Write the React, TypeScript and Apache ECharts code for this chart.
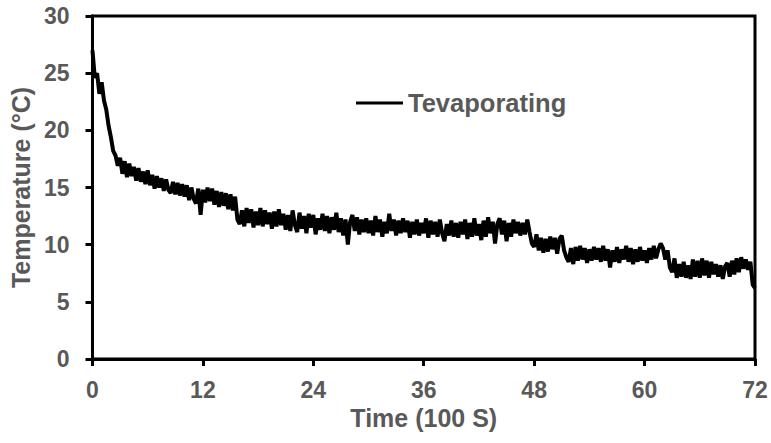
import React, { useEffect, useRef } from "react";
import * as echarts from "echarts";

// Sampling step of the recorded time series (in units of 100 s)
const sampleStep = 0.25;

// Evaporating temperature (°C), one row per unit of time (4 samples each)
const tevaporating: number[] = [
  27.0, 24.6, 25.0, 23.2,
  24.2, 22.6, 21.8, 20.4,
  19.4, 18.2, 17.8, 16.9,
  17.6, 16.2, 17.3, 15.9,
  17.1, 16.0, 16.8, 15.6,
  16.7, 15.5, 16.4, 15.3,
  16.5, 15.2, 16.1, 14.9,
  16.0, 15.0, 15.8, 14.7,
  15.7, 14.8, 14.5, 15.5,
  14.4, 15.4, 14.3, 15.3,
  14.2, 15.2, 13.9, 15.0,
  14.0, 13.6, 14.9, 12.6,
  14.8, 13.7, 15.0, 13.8,
  14.9, 13.5, 14.7, 13.3,
  14.6, 13.4, 14.5, 13.1,
  14.4, 13.0, 14.2, 12.2,
  11.8, 13.0, 11.6, 13.2,
  11.9, 13.1, 11.5, 12.9,
  11.7, 13.2, 11.6, 13.0,
  11.8, 12.8, 11.4, 12.9,
  11.6, 13.1, 11.7, 12.7,
  11.3, 12.6, 11.2, 13.0,
  11.7, 11.1, 12.8, 11.4,
  12.5, 11.0, 12.7, 11.5,
  12.6, 10.9, 12.3, 11.3,
  12.7, 11.2, 12.5, 11.0,
  12.4, 11.3, 12.8, 11.1,
  12.3, 10.8, 12.2, 10.0,
  12.0, 12.6, 11.2, 12.4,
  10.9, 12.2, 11.1, 12.3,
  11.0, 12.1, 10.8, 12.5,
  11.1, 12.2, 10.7, 12.0,
  11.0, 12.7, 11.2, 12.2,
  10.8, 12.1, 11.0, 12.3,
  11.1, 12.1, 10.6, 12.0,
  10.9, 12.2, 10.8, 11.9,
  11.0, 12.3, 10.6, 12.1,
  10.9, 12.0, 10.7, 12.2,
  11.0, 10.3, 11.8, 10.8,
  12.1, 10.7, 11.9, 10.6,
  12.0, 10.9, 12.2, 10.5,
  11.9, 10.7, 12.3, 10.8,
  11.8, 10.4, 12.1, 10.7,
  12.4, 11.0, 12.0, 10.1,
  11.8, 12.3, 10.9, 12.1,
  10.3, 11.9, 10.7, 12.2,
  11.0, 12.0, 10.8, 11.9,
  10.9, 12.2, 11.1, 10.1,
  9.8, 10.9, 9.5, 10.6,
  9.3, 10.5, 9.4, 10.7,
  9.6, 10.6, 9.2, 10.5,
  10.8, 9.5, 8.9, 8.5,
  9.7, 8.3, 9.8, 8.6,
  9.9, 8.7, 9.7, 8.4,
  9.6, 8.6, 9.8, 8.7,
  9.7, 8.5, 9.9, 8.6,
  9.6, 8.0, 9.5, 8.5,
  9.8, 8.4, 9.6, 8.7,
  9.9, 8.5, 9.7, 8.3,
  9.6, 8.5, 9.8, 8.6,
  9.5, 8.4, 9.7, 8.7,
  9.9, 8.8, 9.6, 10.1,
  9.7, 8.7, 9.5, 8.0,
  7.6, 8.8, 7.1, 8.3,
  7.2, 8.5, 7.1, 8.2,
  7.0, 8.7, 7.2, 8.6,
  7.1, 8.8, 7.3, 8.6,
  7.1, 8.5, 7.4, 8.3,
  7.2, 8.2, 7.0, 8.1,
  8.4, 7.2, 8.6, 7.4,
  8.8, 7.6, 8.9, 7.9,
  8.7, 7.8, 8.5, 6.5,
  6.2,
];

const seriesName = "Tevaporating";
const xAxisTitle = "Time (100 S)";
const yAxisTitle = "Temperature (°C)";
const xTicks = { min: 0, max: 72, interval: 12 };
const yTicks = { min: 0, max: 30, interval: 5 };

const FONT = '"Liberation Sans", Arial, Helvetica, sans-serif';
const GRAY = "#595959";

export default function App() {
  const ref = useRef<HTMLDivElement>(null);

  useEffect(() => {
    if (!ref.current) return;
    const chart = echarts.init(ref.current, undefined, { renderer: "svg" });
    const data = tevaporating.map((v, i) => [i * sampleStep, v]);
    const axisCommon = {
      axisLine: { show: true, lineStyle: { color: "#000", width: 3 } },
      axisTick: { show: true, inside: false, length: 7, lineStyle: { color: "#000", width: 3 } },
      splitLine: { show: false },
    };
    chart.setOption({
      animation: false,
      backgroundColor: "#fff",
      textStyle: { fontFamily: FONT },
      grid: {
        left: 89,
        top: 16,
        width: 666,
        height: 343,
        show: true,
        borderColor: "#000",
        borderWidth: 3,
        backgroundColor: "transparent",
      },
      legend: {
        show: true,
        left: 356,
        top: 90,
        padding: 0,
        icon: "rect",
        itemWidth: 47,
        itemHeight: 3,
        data: [seriesName],
        textStyle: { fontFamily: FONT, fontSize: 25.5, fontWeight: "bold", color: GRAY },
      },
      xAxis: {
        type: "value",
        min: xTicks.min,
        max: xTicks.max,
        interval: xTicks.interval,
        name: xAxisTitle,
        nameLocation: "middle",
        nameGap: 45,
        nameTextStyle: { fontFamily: FONT, fontSize: 25, fontWeight: "bold", color: GRAY },
        axisLabel: { margin: 19, fontFamily: FONT, fontSize: 23, fontWeight: "bold", color: GRAY },
        ...axisCommon,
      },
      yAxis: {
        type: "value",
        min: yTicks.min,
        max: yTicks.max,
        interval: yTicks.interval,
        name: yAxisTitle,
        nameLocation: "middle",
        nameGap: 59,
        nameTextStyle: { fontFamily: FONT, fontSize: 25, fontWeight: "bold", color: GRAY },
        axisLabel: { margin: 23, fontFamily: FONT, fontSize: 23, fontWeight: "bold", color: GRAY },
        ...axisCommon,
      },
      series: [
        {
          name: seriesName,
          type: "line",
          data,
          showSymbol: false,
          symbol: "none",
          lineStyle: { color: "#000", width: 4 },
          itemStyle: { color: "#000" },
        },
      ],
    });
    return () => chart.dispose();
  }, []);

  return (
    <div
      ref={ref}
      style={{ position: "absolute", left: 0, top: 0, width: 771, height: 443 }}
    />
  );
}
